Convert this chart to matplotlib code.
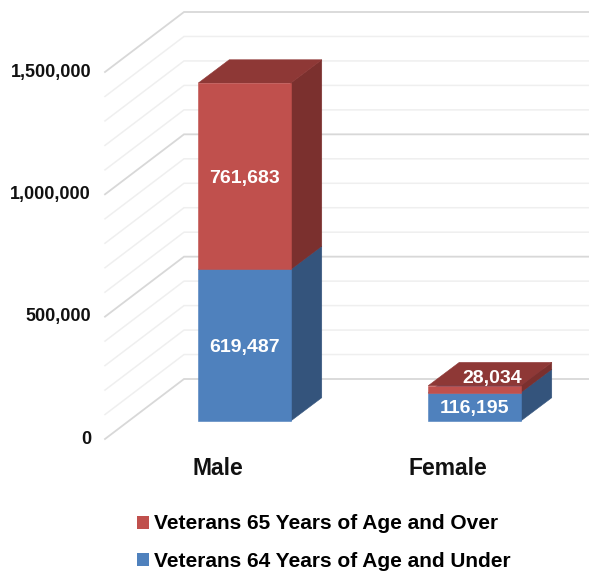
import matplotlib
matplotlib.use("Agg")
import matplotlib.pyplot as plt
from matplotlib.patches import Polygon, Patch

plt.rcParams['font.family'] = ['Liberation Sans', 'DejaVu Sans']

categories = ['Male', 'Female']
under_65 = [619487, 116195]
over_65 = [761683, 28034]
series_names = ['Veterans 64 Years of Age and Under', 'Veterans 65 Years of Age and Over']
y_ticks = [0, 500000, 1000000, 1500000]
minor_step = 100000

# colours: front, top, side
BLUE = ('#4F81BD', '#3E6797', '#34547C')
RED = ('#C0504D', '#8E3836', '#7B302E')

W, H = 589, 571
PX_PER_CAT = 230.0
PX_PER_VAL = 367.0 / 1500000
X0_PX = 244.5   # first bar centre
Y0_PX = 421.0   # baseline of the bars

fig = plt.figure(figsize=(W / 100, H / 100), dpi=100)
ax = fig.add_axes([0, 0, 1, 1])
ax.set_xlim(-X0_PX / PX_PER_CAT, (W - X0_PX) / PX_PER_CAT)
ax.set_ylim(-(H - Y0_PX) / PX_PER_VAL, Y0_PX / PX_PER_VAL)
ax.axis('off')

bar_w = 92.5 / PX_PER_CAT
depth_x = 31.0 / PX_PER_CAT
depth_y = 23.3 / PX_PER_VAL

# wall: front edge and back edge of the floor relative to the bars
wall_front_x = (105 - X0_PX) / PX_PER_CAT
wall_back_x = (184 - X0_PX) / PX_PER_CAT
wall_front_dy = -18 / PX_PER_VAL
wall_back_dy = 42 / PX_PER_VAL
right_x = ax.get_xlim()[1]

n_lines = y_ticks[-1] // minor_step
for i in range(n_lines + 1):
    v = i * minor_step
    major = v in y_ticks
    ax.plot([wall_front_x, wall_back_x, right_x],
            [v + wall_front_dy, v + wall_back_dy, v + wall_back_dy],
            color='#D8D8D8' if major else '#EFEFEF',
            lw=1.3 if major else 1.1, solid_joinstyle='miter', zorder=1)

for v in y_ticks:
    ax.text(wall_front_x - 14 / PX_PER_CAT, v + wall_front_dy, f'{v:,}',
            ha='right', va='center', fontsize=13, fontweight='bold', color='#111111')


def draw_box(i, low, high, colours, z):
    x1, x2 = i - bar_w / 2, i + bar_w / 2
    front, top, side = colours
    ax.add_patch(Polygon([(x2, low), (x2 + depth_x, low + depth_y),
                          (x2 + depth_x, high + depth_y), (x2, high)],
                         fc=side, ec=side, lw=0.4, zorder=z))
    ax.add_patch(Polygon([(x1, high), (x2, high), (x2 + depth_x, high + depth_y),
                          (x1 + depth_x, high + depth_y)],
                         fc=top, ec=top, lw=0.4, zorder=z))
    ax.add_patch(Polygon([(x1, low), (x2, low), (x2, high), (x1, high)],
                         fc=front, ec=front, lw=0.4, zorder=z + 0.1))


for i, cat in enumerate(categories):
    a, b = under_65[i], over_65[i]
    draw_box(i, 0, a, BLUE, 2)
    draw_box(i, a, a + b, RED, 3)

    ax.annotate(f'{a:,}', (i, a / 2), xytext=(0, -1.5), textcoords='offset points',
                ha='center', va='center', color='white',
                fontsize=14, fontweight='bold', zorder=5)
    # small segment: label pushed up onto the top face
    offset = (0, -1.5) if b > 100000 else (13, 8)
    ax.annotate(f'{b:,}', (i, a + b / 2), xytext=offset, textcoords='offset points',
                ha='center', va='center', color='white',
                fontsize=14, fontweight='bold', zorder=5)
    ax.annotate(cat, (i, 0), xytext=(-19, -34.5), textcoords='offset points',
                ha='center', va='center', color='#111111',
                fontsize=16.5, fontweight='bold')

handles = [Patch(fc=RED[0], label=series_names[1]), Patch(fc=BLUE[0], label=series_names[0])]
ax.legend(handles=handles, loc='lower left', bbox_to_anchor=(137 / W, 0.2 / H),
          frameon=False, handlelength=0.58, handleheight=0.58,
          handletextpad=0.24, labelspacing=0.88, borderpad=0, borderaxespad=0,
          prop={'weight': 'bold', 'size': 15})

fig.savefig('out.png', dpi=100)
